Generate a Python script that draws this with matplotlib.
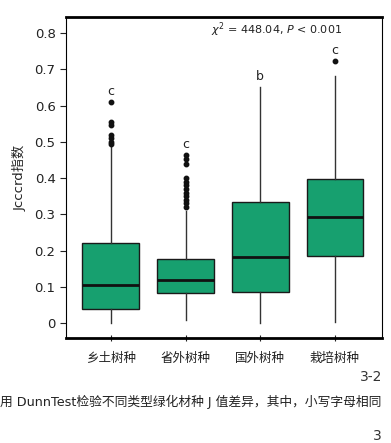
import matplotlib.pyplot as plt

plt.rcParams['font.family'] = ['DejaVu Sans', 'Noto Sans CJK SC']

groups = ['乡土树种', '省外树种', '国外树种', '栽培树种']
q1 = [0.039, 0.083, 0.086, 0.185]
med = [0.105, 0.118, 0.182, 0.292]
q3 = [0.221, 0.177, 0.334, 0.397]
whislo = [0.0, 0.01, 0.0, 0.003]
whishi = [0.486, 0.31, 0.651, 0.681]
fliers = [
    [0.61, 0.555, 0.545, 0.52, 0.51, 0.50, 0.495],
    [0.463, 0.452, 0.44, 0.40, 0.39, 0.38, 0.37, 0.36, 0.35, 0.34, 0.33, 0.32],
    [],
    [0.722],
]
letters = ['c', 'c', 'b', 'c']

stats = []
for i in range(len(groups)):
    stats.append({'q1': q1[i], 'med': med[i], 'q3': q3[i],
                  'whislo': whislo[i], 'whishi': whishi[i],
                  'fliers': fliers[i], 'label': groups[i]})

fig = plt.figure(figsize=(3.91, 4.43), dpi=100)
ax = fig.add_axes([66 / 391, 1 - 338 / 443, 316 / 391, 321 / 443])

green = '#17a06f'
ax.bxp(stats, positions=[1, 2, 3, 4], widths=0.76, patch_artist=True, showcaps=False,
       boxprops=dict(facecolor=green, edgecolor='#1a1a1a', linewidth=1.0),
       medianprops=dict(color='#111111', linewidth=2.0),
       whiskerprops=dict(color='#333333', linewidth=1.0),
       flierprops=dict(marker='o', markerfacecolor='#111111', markeredgecolor='#111111',
                       markersize=3.2))

for i, l in enumerate(letters):
    top = max([whishi[i]] + fliers[i])
    ax.text(i + 1, top + 0.012, l, ha='center', va='bottom', fontsize=9, color='#222222')

ax.set_xlim(0.4, 4.63)
ax.set_ylim(-0.041, 0.844)
ax.set_yticks([0, 0.1, 0.2, 0.3, 0.4, 0.5, 0.6, 0.7, 0.8])
ax.set_yticklabels(['0', '0.1', '0.2', '0.3', '0.4', '0.5', '0.6', '0.7', '0.8'])
ax.tick_params(axis='y', labelsize=9.5, length=4, colors='#222222')
ax.tick_params(axis='x', labelsize=9, length=4, direction='inout', pad=8, colors='#222222')
ax.set_ylabel('Jcccrd指数', fontsize=9.5, labelpad=6, color='#222222')

ax.spines['top'].set_linewidth(2.0)
ax.spines['bottom'].set_linewidth(2.0)
ax.spines['left'].set_linewidth(0.8)
ax.spines['right'].set_linewidth(0.8)

ax.text(0.665, 0.96, r'$\chi^2$ = 448.04, $P$ < 0.001', transform=ax.transAxes,
        ha='center', va='center', fontsize=8, color='#222222')

fig.text(382 / 391, 1 - 377 / 443, '3-2', ha='right', va='center', fontsize=10, color='#333333')
fig.text(0.0, 1 - 402 / 443, '用 DunnTest检验不同类型绿化材种 J 值差异，其中，小写字母相同',
         ha='left', va='center', fontsize=9.2, color='#222222')
fig.text(382 / 391, 1 - 436 / 443, '3', ha='right', va='center', fontsize=10, color='#333333')

fig.savefig('out.png', dpi=100)
